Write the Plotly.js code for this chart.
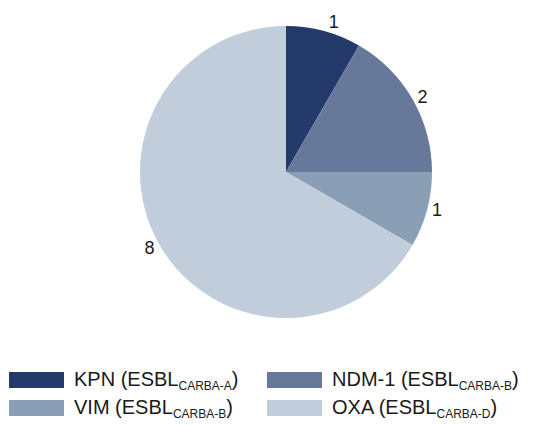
<!DOCTYPE html>
<html>
<head>
<meta charset="utf-8">
<script src="https://cdn.plot.ly/plotly-3.0.1.min.js"></script>
<style>
  html, body { margin: 0; padding: 0; background: #ffffff; }
  #chart { width: 556px; height: 425px; }
</style>
</head>
<body>
<div id="chart"></div>
<script>
// Carbapenemase types and counts
const categories = ['KPN', 'NDM-1', 'VIM', 'OXA'];
const subscripts = ['CARBA-A', 'CARBA-B', 'CARBA-B', 'CARBA-D'];
const counts = [1, 2, 1, 8];
const colors = ['#233a6b', '#67789a', '#8a9fb6', '#c1cddb'];

const W = 556, H = 425;
const px = x => x / W;
const py = y => 1 - y / H;

const legendLabels = categories.map((c, i) =>
  c + ' (ESBL<sub><span style="font-size:12px">' + subscripts[i] + '</span></sub>)');

const trace = {
  type: 'pie',
  labels: categories,
  values: counts,
  marker: { colors: colors, line: { width: 0 } },
  sort: false,
  direction: 'clockwise',
  rotation: 0,
  textinfo: 'value',
  textposition: 'outside',
  outsidetextfont: { family: 'Liberation Sans, Arial, sans-serif', size: 18, color: '#1a1a1a' },
  automargin: false,
  showlegend: false,
  hoverinfo: 'label+value',
  domain: { x: [px(140), px(432)], y: [py(318), py(26)] }
};

// Legend: two columns of wide colour swatches with labels
const shapes = [];
const annotations = [];
const colX = [9, 267];
const rowY = [380, 408];
categories.forEach((c, i) => {
  const col = i % 2, row = Math.floor(i / 2);
  const x0 = colX[col], yc = rowY[row];
  shapes.push({
    type: 'rect', xref: 'paper', yref: 'paper',
    x0: px(x0), x1: px(x0 + 55), y0: py(yc + 8), y1: py(yc - 8),
    fillcolor: colors[i], line: { width: 0 }
  });
  annotations.push({
    xref: 'paper', yref: 'paper', x: px(x0 + 63), y: py(yc),
    xanchor: 'left', yanchor: 'middle', showarrow: false,
    text: legendLabels[i],
    font: { family: 'Liberation Sans, Arial, sans-serif', size: 20, color: '#1a1a1a' }
  });
});

const layout = {
  width: W, height: H,
  margin: { l: 0, r: 0, t: 0, b: 0 },
  paper_bgcolor: '#ffffff',
  showlegend: false,
  shapes: shapes,
  annotations: annotations
};

Plotly.newPlot('chart', [trace], layout, { displayModeBar: false, staticPlot: true });
</script>
</body>
</html>
